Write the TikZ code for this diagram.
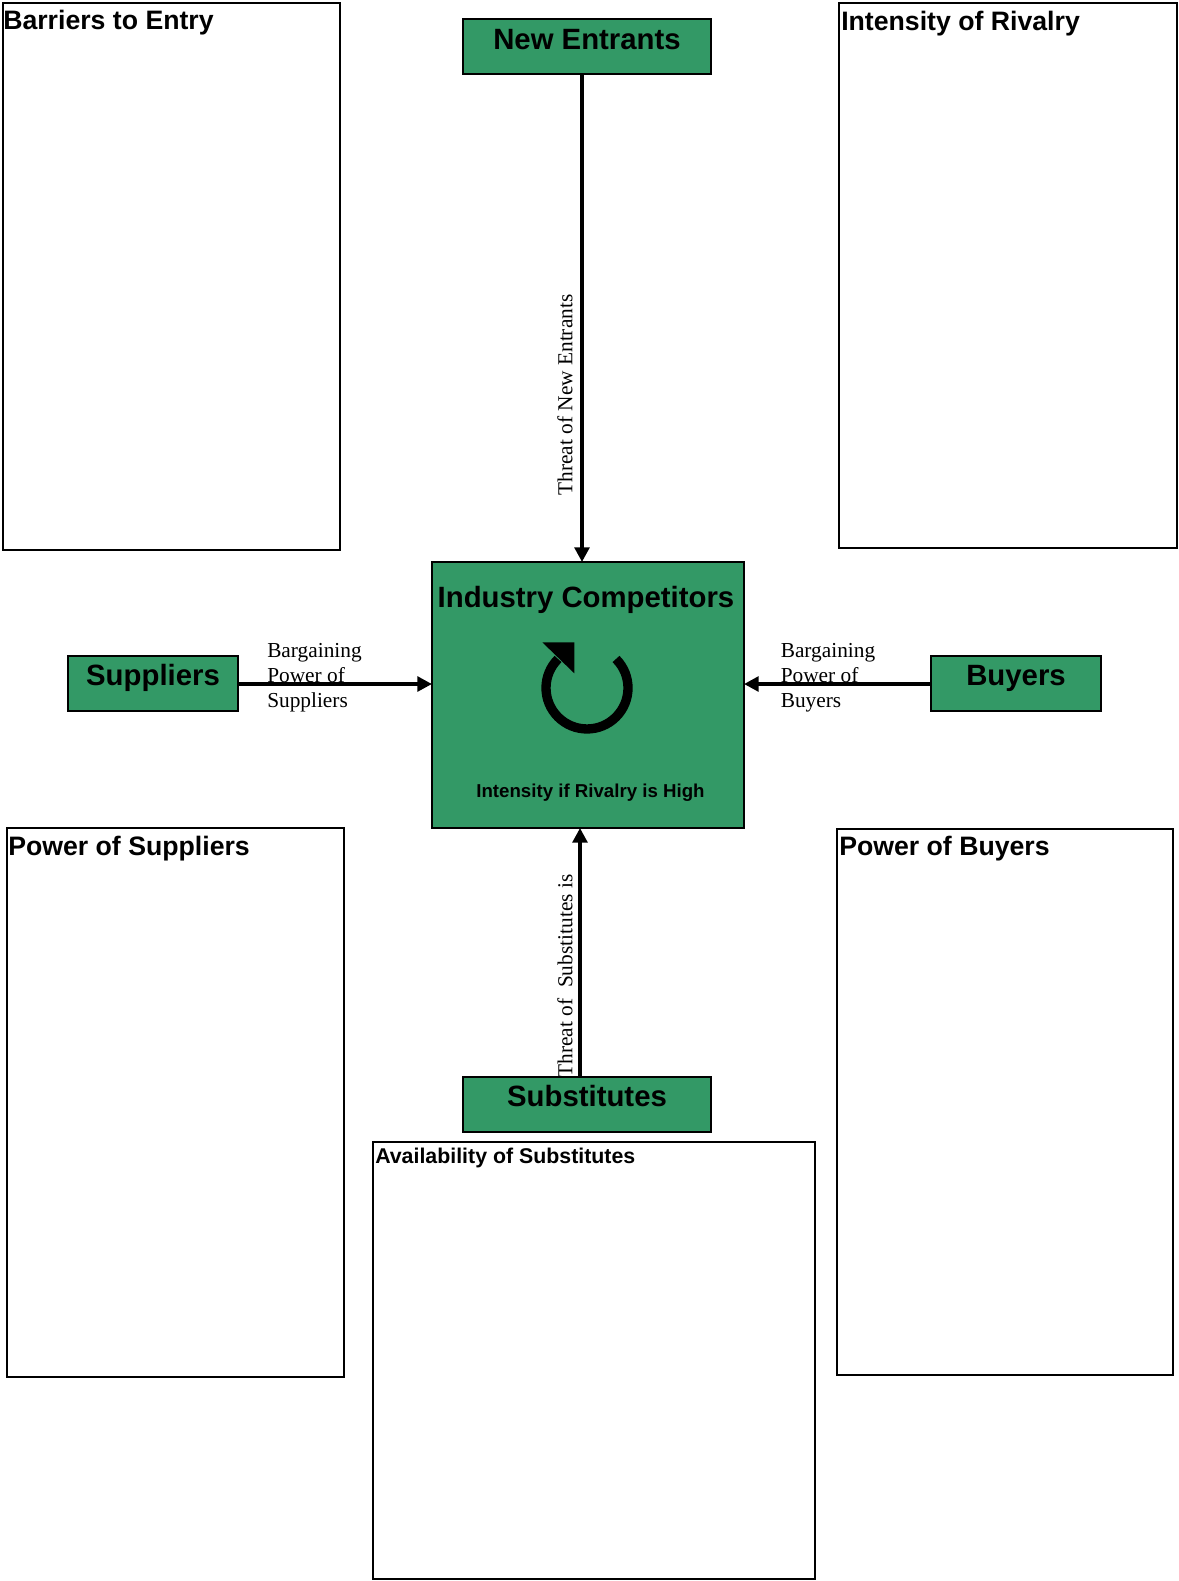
\documentclass[tikz,border=0pt]{standalone}
\usepackage{fontspec}
\usepackage{xcolor}
\setmainfont{Liberation Sans}
\newfontfamily\labelfont{Liberation Serif}
\definecolor{forcegreen}{HTML}{339966}
\usetikzlibrary{arrows.meta}

\begin{document}
\begin{tikzpicture}[x=0.75pt,y=0.75pt,
    boxsize/.style 2 args={minimum width=#1*0.75pt, minimum height=#2*0.75pt},
    panel/.style={rectangle, draw=black, line width=1.5pt, fill=white, inner sep=0pt, outer sep=0pt},
    forcenode/.style={panel, fill=forcegreen},
    forcetitle/.style={anchor=base, inner sep=0pt, font=\fontsize{22}{26}\selectfont\bfseries},
    paneltitle/.style={anchor=base west, inner sep=0pt, font=\fontsize{20}{24}\selectfont\bfseries},
    flowlabel/.style={inner sep=0pt, font=\fontsize{16}{18.75}\selectfont\labelfont},
    flow/.style={line width=3pt, -{Triangle[length=11pt,width=11pt]}}]
            \useasboundingbox (0,0) rectangle (1178,1581);

            \node[panel, boxsize={337}{547}] (barriers) at (171,1304.5) {};
            \node[panel, boxsize={338}{545}] (rivalry) at (1008,1305.5) {};
            \node[panel, boxsize={337}{549}] (powersuppliers) at (175.5,478) {};
            \node[panel, boxsize={336}{546}] (powerbuyers) at (1005,479) {};
            \node[panel, boxsize={442}{437}] (availability) at (593.5,220.5) {};

            \node[forcenode, boxsize={248}{55}] (entrants) at (587,1534.5) {};
            \node[forcenode, boxsize={312}{266}] (competitors) at (588,886) {};
            \node[forcenode, boxsize={170}{55}] (suppliers) at (153,897.5) {};
            \node[forcenode, boxsize={170}{55}] (buyers) at (1016,897.5) {};
            \node[forcenode, boxsize={248}{55}] (substitutes) at (587,476.5) {};

            \node[paneltitle] (barrierstitle) at (3,1551) {Barriers to Entry};
            \node[paneltitle] (rivalrytitle) at (841,1550) {Intensity of Rivalry};
            \node[paneltitle] (powersupplierstitle) at (8,725) {Power of Suppliers};
            \node[paneltitle] (powerbuyerstitle) at (839,725) {Power of Buyers};
            \node[paneltitle, font=\fontsize{16}{19}\selectfont\bfseries] (availabilitytitle) at (375,417) {Availability of Substitutes};

            \node[forcetitle] (entrantstitle) at (587,1531) {New Entrants};
            \node[forcetitle] (competitorstitle) at (586,973) {Industry Competitors};
            \node[forcetitle] (supplierstitle) at (153,895) {Suppliers};
            \node[forcetitle] (buyerstitle) at (1016,895) {Buyers};
            \node[forcetitle] (substitutestitle) at (587,474) {Substitutes};
            \node[forcetitle, font=\fontsize{14}{17}\selectfont\bfseries] (highlabel) at (590.5,783) {Intensity if Rivalry is High};

            % cycle symbol
            \draw[line width=7pt] (616,922) arc[start angle=45, end angle=-225, radius=41];
            \fill (542.3,938.7) -- (574.3,938.7) -- (574.3,907.7) -- cycle;

            \node[flowlabel, rotate=90] (entrantslabel) at (565,1186) {Threat of New Entrants};
            \node[flowlabel, rotate=90] (substituteslabel) at (565,605) {Threat of\ \ Substitutes is};
            \node[flowlabel, anchor=west, align=left] (supplierslabel) at (267,903) {Bargaining\\Power of\\Suppliers};
            \node[flowlabel, anchor=west, align=left] (buyerslabel) at (780.5,903) {Bargaining\\Power of\\Buyers};

            \draw[flow] ([xshift=-3.75pt]entrants.south) -- ([xshift=-4.5pt]competitors.north);
            \draw[flow] ([xshift=-5.25pt]substitutes.north) -- ([xshift=-6pt]competitors.south);
            \draw[flow] ([yshift=-0.4pt]suppliers.east) -- ([yshift=8.225pt]competitors.west);
            \draw[flow] ([yshift=-0.4pt]buyers.west) -- ([yshift=8.225pt]competitors.east);
\end{tikzpicture}
\end{document}
